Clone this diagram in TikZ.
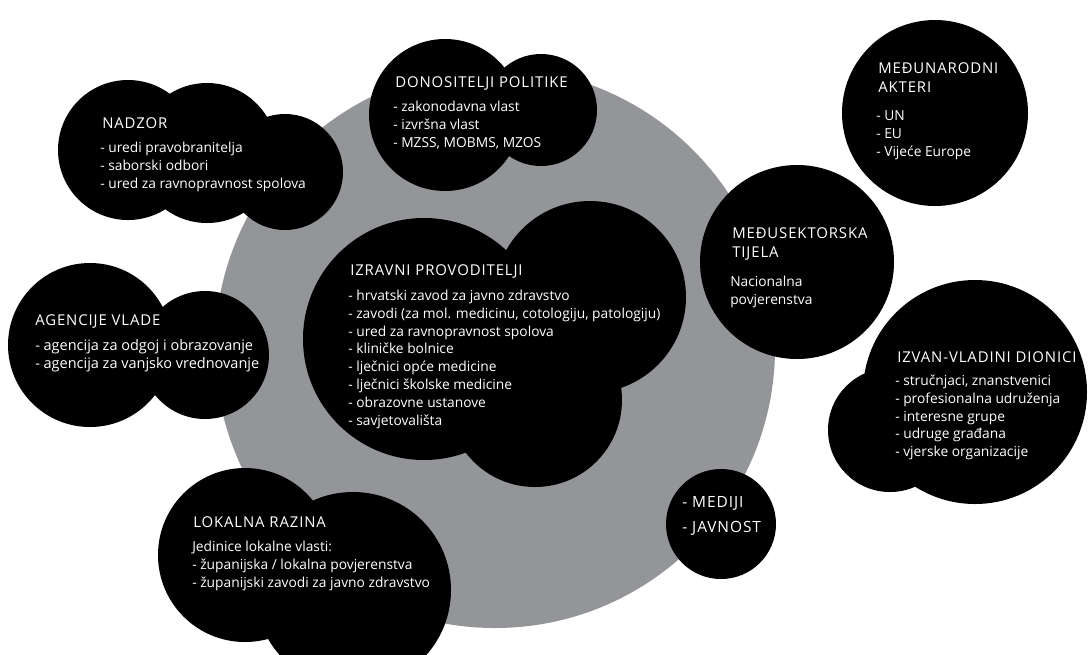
\documentclass[tikz,border=0pt]{standalone}
\usepackage{fontspec}
\setmainfont{Open Sans}
\newfontfamily\headfont[LetterSpace=6]{Open Sans}
\definecolor{ringgray}{RGB}{147,149,152}

\begin{document}
\begin{tikzpicture}[x=0.025cm, y=-0.025cm,
    blob/.style={fill=black},
    head/.style={text=white, inner sep=0pt, anchor=base west,
        font=\headfont\fontsize{10.6}{12}\selectfont},
    item/.style={text=white, inner sep=0pt, anchor=base west,
        font=\fontsize{9.8}{12}\selectfont}]
    \pgfmathsetmacro\lh{17.8};

    \useasboundingbox (0,0) rectangle (1090,654);
    \clip (0,0) rectangle (1090,654);

    \fill[ringgray] (495,348) circle (280);

    % clouds, one circle per triple
    \foreach \cx/\cy/\r in {128/150/70, 207/153/70, 285/172/58}
        \fill[blob] (\cx,\cy) circle (\r);
    \foreach \cx/\cy/\r in {445/115/76, 541/110/56}
        \fill[blob] (\cx,\cy) circle (\r);
    \fill[blob] (935,113) circle (93);
    \fill[blob] (797,262) circle (97);
    \foreach \cx/\cy/\r in {90/345/82, 205/355/64}
        \fill[blob] (\cx,\cy) circle (\r);
    \foreach \cx/\cy/\r in {424/339/121, 590/297/96, 535/400/87}
        \fill[blob] (\cx,\cy) circle (\r);
    \foreach \cx/\cy/\r in {890/430/62, 975/392/112}
        \fill[blob] (\cx,\cy) circle (\r);
    \foreach \cx/\cy/\r in {245/555/87, 353/590/98}
        \fill[blob] (\cx,\cy) circle (\r);
    \fill[blob] (721,524) circle (55);

    % nadzor
    \node[head] (nadzor) at (102,128.5) {NADZOR};
    \foreach \t [count=\i from 0] in {- uredi pravobranitelja, - saborski odbori,
        - ured za ravnopravnost spolova}
        \node[item] (nadzor-\i) at (100, 152.5 + \i*\lh) {\t};

    % donositelji politike
    \node[head] (donos) at (395,87) {DONOSITELJI POLITIKE};
    \foreach \t [count=\i from 0] in {- zakonodavna vlast, - izvršna vlast,
        {- MZSS, MOBMS, MZOS}}
        \node[item] (donos-\i) at (393, 111.5 + \i*\lh) {\t};

    % medunarodni akteri
    \node[head] (medun) at (878,73) {MEĐUNARODNI};
    \node[head] (medun-b) at (878,92) {AKTERI};
    \foreach \t [count=\i from 0] in {- UN, - EU, - Vijeće Europe}
        \node[item] (medun-\i) at (876, 120.5 + \i*\lh) {\t};

    % medusektorska tijela
    \node[head] (medus) at (732,238) {MEĐUSEKTORSKA};
    \node[head] (medus-b) at (732,257) {TIJELA};
    \foreach \t [count=\i from 0] in {Nacionalna, povjerenstva}
        \node[item] (medus-\i) at (730, 286.5 + \i*\lh) {\t};

    % agencije vlade
    \node[head] (agenc) at (35,325) {AGENCIJE VLADE};
    \foreach \t [count=\i from 0] in {- agencija za odgoj i obrazovanje,
        - agencija za vanjsko vrednovanje}
        \node[item, font=\fontsize{10.3}{13}\selectfont] (agenc-\i) at (35, 350.5 + \i*\lh) {\t};

    % izravni provoditelji
    \node[head] (izrav) at (350,275) {IZRAVNI PROVODITELJI};
    \foreach \t [count=\i from 0] in {- hrvatski zavod za javno zdravstvo,
        {- zavodi (za mol. medicinu, cotologiju, patologiju)},
        - ured za ravnopravnost spolova, - kliničke bolnice,
        - lječnici opće medicine, - lječnici školske medicine,
        - obrazovne ustanove, - savjetovališta}
        \node[item] (izrav-\i) at (348, 300.5 + \i*\lh) {\t};

    % izvan-vladini dionici
    \node[head] (izvan) at (897,362) {IZVAN-VLADINI DIONICI};
    \foreach \t [count=\i from 0] in {{- stručnjaci, znanstvenici},
        - profesionalna udruženja, - interesne grupe, - udruge građana,
        - vjerske organizacije}
        \node[item] (izvan-\i) at (895, 385.5 + \i*\lh) {\t};

    % lokalna razina
    \node[head] (lokal) at (193,527) {LOKALNA RAZINA};
    \foreach \t [count=\i from 0] in {Jedinice lokalne vlasti:,
        - županijska / lokalna povjerenstva,
        - županijski zavodi za javno zdravstvo}
        \node[item] (lokal-\i) at (192, 551.5 + \i*\lh) {\t};

    % mediji, javnost
    \node[head, font=\headfont\fontsize{11}{13}\selectfont] (medij) at (682,507) {- MEDIJI};
    \node[head, font=\headfont\fontsize{11}{13}\selectfont] (javn) at (682,532) {- JAVNOST};
\end{tikzpicture}
\end{document}
